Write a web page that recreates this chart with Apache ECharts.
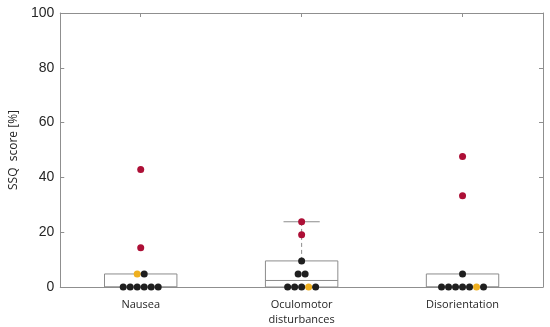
<!DOCTYPE html>
<html>
<head>
<meta charset="utf-8">
<script src="https://cdn.jsdelivr.net/npm/echarts@6/dist/echarts.min.js"></script>
<style>html,body{margin:0;padding:0;background:#fff}#chart{width:550px;height:327px}</style>
</head>
<body>
<div id="chart"></div>
<script>
const categories = ['Nausea', 'Oculomotor\ndisturbances', 'Disorientation'];
const yTicks = [0, 20, 40, 60, 80, 100];

// Individual scores per category, with colour group (k = black, y = yellow, r = red)
const nauseaValues = [0, 0, 0, 0, 0, 0, 4.76, 4.76, 14.29, 42.86];
const nauseaGroups = ['k', 'k', 'k', 'k', 'k', 'k', 'y', 'k', 'r', 'r'];
const oculoValues = [0, 0, 0, 0, 0, 4.76, 4.76, 9.52, 19.05, 23.81];
const oculoGroups = ['k', 'k', 'k', 'y', 'k', 'k', 'k', 'k', 'r', 'r'];
const disoValues = [0, 0, 0, 0, 0, 0, 0, 4.76, 33.33, 47.62];
const disoGroups = ['k', 'k', 'k', 'k', 'k', 'y', 'k', 'k', 'r', 'r'];

// Box statistics: [lower whisker, Q1, median, Q3, upper whisker]
const nauseaBox = [0, 0, 0, 4.76, 4.76];
const oculoBox = [0, 0, 2.38, 9.52, 23.81];
const disoBox = [0, 0, 0, 4.76, 4.76];

const groupColors = { k: '#1f1f1f', y: '#efb020', r: '#ad0f36' };
const DOT = 7;

const valueSets = [nauseaValues, oculoValues, disoValues];
const groupSets = [nauseaGroups, oculoGroups, disoGroups];
const boxSets = [nauseaBox, oculoBox, disoBox];

// beeswarm: spread identical values side by side
const dotData = [];
valueSets.forEach((vals, ci) => {
  const counts = {};
  vals.forEach(v => { counts[v] = (counts[v] || 0) + 1; });
  const seen = {};
  vals.forEach((v, i) => {
    const k = seen[v] || 0; seen[v] = k + 1;
    const n = counts[v];
    dotData.push({
      value: [ci, v],
      symbolOffset: [(k - (n - 1) / 2) * DOT, 0],
      itemStyle: { color: groupColors[groupSets[ci][i]], opacity: 1 }
    });
  });
});

const boxData = boxSets.map((b, ci) => [ci].concat(b));

const axisGray = '#8f8f8f';
const chart = echarts.init(document.getElementById('chart'), null, { renderer: 'canvas' });
chart.setOption({
  animation: false,
  grid: { left: 60, right: 7, top: 13, bottom: 35, containLabel: false },
  xAxis: [{
    type: 'category', data: categories, position: 'bottom',
    axisLine: { onZero: false, lineStyle: { color: axisGray, width: 1 } },
    axisTick: { inside: true, length: 4, alignWithLabel: true, lineStyle: { color: axisGray } },
    axisLabel: { color: '#262626', fontFamily: 'Open Sans', fontSize: 11, margin: 10, lineHeight: 15 }
  }, {
    type: 'category', data: categories, position: 'top',
    axisLine: { show: true, onZero: false, lineStyle: { color: axisGray, width: 1 } },
    axisTick: { show: true, inside: true, length: 4, alignWithLabel: true, lineStyle: { color: axisGray } },
    axisLabel: { show: false }
  }],
  yAxis: [{
    type: 'value', min: yTicks[0], max: yTicks[yTicks.length - 1], interval: 20,
    name: 'SSQ  score [%]', nameLocation: 'middle', nameGap: 37, nameRotate: 90,
    nameTextStyle: { color: '#262626', fontFamily: 'Open Sans', fontSize: 12 },
    axisLine: { show: true, onZero: false, lineStyle: { color: axisGray, width: 1 } },
    axisTick: { show: true, inside: true, length: 4, lineStyle: { color: axisGray } },
    axisLabel: { color: '#262626', fontFamily: 'Liberation Sans', fontSize: 14, margin: 6 },
    splitLine: { show: false }
  }, {
    type: 'value', min: yTicks[0], max: yTicks[yTicks.length - 1], interval: 20, position: 'right',
    axisLine: { show: true, onZero: false, lineStyle: { color: axisGray, width: 1 } },
    axisTick: { show: true, inside: true, length: 4, lineStyle: { color: axisGray } },
    axisLabel: { show: false },
    splitLine: { show: false }
  }],
  series: [{
    type: 'custom',
    data: boxData,
    z: 2,
    renderItem: function (params, api) {
      const ci = api.value(0);
      const lo = api.value(1), q1 = api.value(2), med = api.value(3), q3 = api.value(4), hi = api.value(5);
      const bw = api.size([1, 0])[0] * 0.45;
      const pQ1 = api.coord([ci, q1]), pQ3 = api.coord([ci, q3]);
      const pMed = api.coord([ci, med]), pHi = api.coord([ci, hi]), pLo = api.coord([ci, lo]);
      const cx = pQ1[0];
      const stroke = '#8c8c8c';
      const children = [{
        type: 'rect',
        shape: { x: cx - bw / 2, y: pQ3[1], width: bw, height: pQ1[1] - pQ3[1] },
        style: { fill: '#fff', stroke: stroke, lineWidth: 1 }
      }, {
        type: 'line',
        shape: { x1: cx - bw / 2, y1: pMed[1], x2: cx + bw / 2, y2: pMed[1] },
        style: { stroke: stroke, lineWidth: 1 }
      }];
      if (hi > q3) {
        children.push({ type: 'line', shape: { x1: cx, y1: pQ3[1], x2: cx, y2: pHi[1] },
          style: { stroke: stroke, lineWidth: 1, lineDash: [4, 3] } });
        children.push({ type: 'line', shape: { x1: cx - bw / 4, y1: pHi[1], x2: cx + bw / 4, y2: pHi[1] },
          style: { stroke: stroke, lineWidth: 1 } });
      }
      if (lo < q1) {
        children.push({ type: 'line', shape: { x1: cx, y1: pQ1[1], x2: cx, y2: pLo[1] },
          style: { stroke: stroke, lineWidth: 1, lineDash: [4, 3] } });
        children.push({ type: 'line', shape: { x1: cx - bw / 4, y1: pLo[1], x2: cx + bw / 4, y2: pLo[1] },
          style: { stroke: stroke, lineWidth: 1 } });
      }
      return { type: 'group', children: children };
    }
  }, {
    type: 'scatter',
    data: dotData,
    symbol: 'circle',
    symbolSize: DOT,
    z: 5,
    clip: false,
    itemStyle: { opacity: 1 }
  }]
});
</script>
</body>
</html>
